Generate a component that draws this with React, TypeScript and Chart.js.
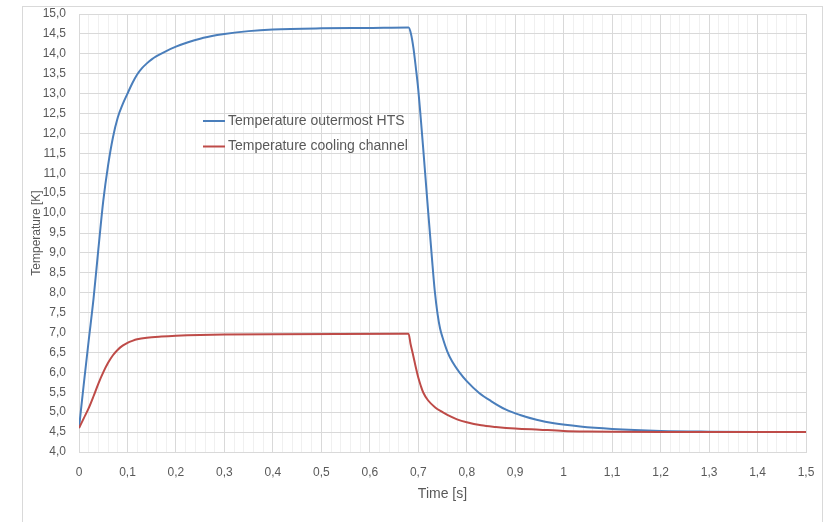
import React, { useEffect, useRef } from 'react';
import { Chart, registerables } from 'chart.js';

Chart.register(...registerables);

// Temperature outermost HTS
const htsTime = [0, 0.01, 0.02, 0.03, 0.04, 0.05, 0.06, 0.07, 0.08, 0.09, 0.1, 0.11, 0.12, 0.13, 0.14, 0.15, 0.16, 0.18, 0.2, 0.225, 0.25, 0.285, 0.3, 0.35, 0.4, 0.5, 0.6, 0.68, 0.685, 0.69, 0.695, 0.7, 0.705, 0.71, 0.72, 0.728, 0.734, 0.74, 0.745, 0.75, 0.76, 0.77, 0.785, 0.8, 0.825, 0.85, 0.88, 0.91, 0.944, 0.98, 1.034, 1.1, 1.2, 1.3, 1.4, 1.5];
const htsTemp = [4.6, 5.72, 6.8, 7.85, 9.1, 10.3, 11.2, 11.9, 12.4, 12.73, 13.0, 13.26, 13.48, 13.64, 13.76, 13.86, 13.94, 14.07, 14.18, 14.29, 14.38, 14.47, 14.5, 14.57, 14.61, 14.64, 14.65, 14.66, 14.5, 14.15, 13.65, 13.1, 12.4, 11.65, 10.1, 8.9, 8.05, 7.45, 7.1, 6.88, 6.52, 6.27, 6.0, 5.78, 5.49, 5.28, 5.07, 4.93, 4.81, 4.72, 4.64, 4.58, 4.53, 4.51, 4.5, 4.5];

// Temperature cooling channel
const channelTime = [0, 0.01, 0.02, 0.03, 0.04, 0.05, 0.06, 0.07, 0.08, 0.09, 0.1, 0.11, 0.12, 0.14, 0.17, 0.2, 0.25, 0.3, 0.4, 0.68, 0.684, 0.69, 0.695, 0.7, 0.705, 0.71, 0.72, 0.735, 0.75, 0.76, 0.78, 0.8, 0.83, 0.86, 0.9, 0.95, 1.0, 1.05, 1.1, 1.2, 1.5];
const channelTemp = [4.6, 4.85, 5.1, 5.4, 5.72, 6.0, 6.24, 6.43, 6.57, 6.67, 6.74, 6.79, 6.83, 6.87, 6.9, 6.92, 6.94, 6.95, 6.96, 6.97, 6.72, 6.4, 6.12, 5.87, 5.67, 5.5, 5.3, 5.12, 5.0, 4.93, 4.82, 4.745, 4.67, 4.63, 4.59, 4.56, 4.53, 4.515, 4.507, 4.5, 4.5];

const seriesLabels = ['Temperature outermost HTS', 'Temperature cooling channel'];
const seriesColors = ['#4a7ebb', '#be4b48'];

const xMin = 0;
const xMax = 1.5;
const xMinorStep = 0.02;
const xMajorEvery = 5;
const yMin = 4;
const yMax = 15;
const yStep = 0.5;

const xTitle = 'Time [s]';
const yTitle = 'Temperature [K]';

const TEXT = '#595959';
const GRID_MAJOR = '#d9d9d9';
const GRID_MINOR = '#f0f0f0';
const FONT = "'Liberation Sans', Arial, sans-serif";

const toPoints = (xs: number[], ys: number[]) => xs.map((x, i) => ({ x, y: ys[i] }));

const insideLegend = {
  id: 'insideLegend',
  afterDatasetsDraw(chart: any) {
    const { ctx, chartArea } = chart;
    const x0 = chartArea.left + 124;
    const y0 = chartArea.top + 107;
    const gap = 25.5;
    ctx.save();
    ctx.font = `14px ${FONT}`;
    ctx.textBaseline = 'middle';
    ctx.textAlign = 'left';
    chart.data.datasets.forEach((ds: any, i: number) => {
      const y = y0 + i * gap;
      ctx.strokeStyle = ds.borderColor;
      ctx.lineWidth = 2;
      ctx.beginPath();
      ctx.moveTo(x0, y);
      ctx.lineTo(x0 + 22, y);
      ctx.stroke();
      ctx.fillStyle = TEXT;
      ctx.fillText(ds.label, x0 + 25, y);
    });
    ctx.restore();
  },
};

export default function App() {
  const canvasRef = useRef<HTMLCanvasElement | null>(null);

  useEffect(() => {
    if (!canvasRef.current) return;
    Chart.defaults.font.family = FONT;
    const chart = new Chart(canvasRef.current, {
      type: 'line',
      data: {
        datasets: [
          {
            label: seriesLabels[0],
            data: toPoints(htsTime, htsTemp),
            borderColor: seriesColors[0],
            backgroundColor: seriesColors[0],
            borderWidth: 2,
            pointRadius: 0,
            fill: false,
            cubicInterpolationMode: 'monotone',
            order: 2,
          },
          {
            label: seriesLabels[1],
            data: toPoints(channelTime, channelTemp),
            borderColor: seriesColors[1],
            backgroundColor: seriesColors[1],
            borderWidth: 2,
            pointRadius: 0,
            fill: false,
            cubicInterpolationMode: 'monotone',
            order: 1,
          },
        ],
      },
      options: {
        responsive: false,
        animation: false,
        events: [],
        layout: { padding: { left: 0, top: 14, right: 25, bottom: 0 } },
        plugins: {
          legend: { display: false },
          tooltip: { enabled: false },
          title: { display: false },
        },
        scales: {
          x: {
            type: 'linear',
            min: xMin,
            max: xMax,
            afterFit: (scale: any) => {
              scale.height = 70;
              scale.paddingRight = 0;
              scale.paddingLeft = 0;
            },
            border: { color: GRID_MAJOR, width: 1 },
            grid: {
              drawTicks: false,
              lineWidth: 1,
              color: (ctx: any) => (ctx.index % xMajorEvery === 0 ? GRID_MAJOR : GRID_MINOR),
            },
            ticks: {
              stepSize: xMinorStep,
              maxTicksLimit: 500,
              autoSkip: false,
              maxRotation: 0,
              padding: 13,
              color: TEXT,
              font: { size: 12, family: FONT },
              callback: (value: any, index: number) =>
                index % xMajorEvery === 0 ? String(Math.round(Number(value) * 10) / 10).replace('.', ',') : '',
            },
            title: {
              display: true,
              text: xTitle,
              color: TEXT,
              font: { size: 14, family: FONT },
              padding: { top: 0, bottom: 19 },
            },
          },
          y: {
            type: 'linear',
            min: yMin,
            max: yMax,
            afterFit: (scale: any) => {
              scale.width = 79;
              scale.paddingTop = 0;
              scale.paddingBottom = 0;
            },
            border: { color: GRID_MAJOR, width: 1 },
            grid: { drawTicks: false, color: GRID_MAJOR, lineWidth: 1 },
            ticks: {
              stepSize: yStep,
              autoSkip: false,
              padding: 13,
              color: TEXT,
              font: { size: 12, family: FONT },
              callback: (value: any) => Number(value).toFixed(1).replace('.', ','),
            },
            title: {
              display: true,
              text: yTitle,
              color: TEXT,
              font: { size: 12, family: FONT },
              padding: { top: 29, bottom: 0 },
            },
          },
        },
      },
      plugins: [insideLegend],
    });
    return () => chart.destroy();
  }, []);

  return (
    <div style={{ position: 'absolute', left: 0, top: 0, width: 831, height: 522, overflow: 'hidden', background: '#ffffff' }}>
      <div
        style={{
          position: 'absolute',
          left: 22,
          top: 6,
          width: 801,
          height: 600,
          boxSizing: 'border-box',
          border: '1px solid #d9d9d9',
        }}
      />
      <canvas ref={canvasRef} width={831} height={522} style={{ position: 'absolute', left: 0, top: 0 }} />
    </div>
  );
}
